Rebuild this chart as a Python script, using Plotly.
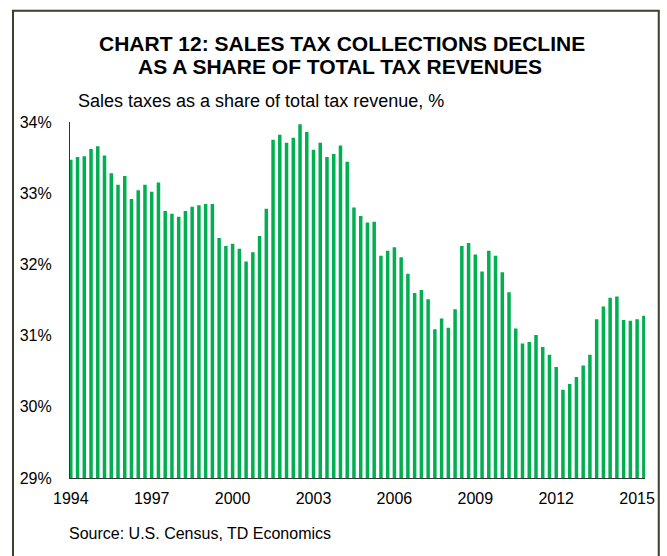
import plotly.graph_objects as go

# Quarterly sales-tax share of total tax revenue, 1994Q1 - 2015Q2 (%)
quarters = [f"{y}Q{q}" for y in range(1994, 2016) for q in range(1, 5)][:86]
share = [
    33.47, 33.51, 33.52, 33.62, 33.66, 33.53, 33.28, 33.12, 33.24, 32.92,
    33.04, 33.12, 33.02, 33.15, 32.75, 32.71, 32.67, 32.75, 32.81, 32.83,
    32.85, 32.85, 32.37, 32.26, 32.29, 32.22, 32.04, 32.17, 32.40, 32.78,
    33.75, 33.82, 33.71, 33.78, 33.97, 33.86, 33.61, 33.71, 33.51, 33.55,
    33.67, 33.44, 32.80, 32.68, 32.59, 32.60, 32.12, 32.19, 32.24, 32.10,
    31.87, 31.60, 31.64, 31.51, 31.09, 31.24, 31.11, 31.37, 32.26, 32.30,
    32.14, 31.90, 32.19, 32.12, 31.89, 31.61, 31.10, 30.89, 30.91, 31.01,
    30.84, 30.73, 30.56, 30.24, 30.32, 30.42, 30.58, 30.73, 31.23, 31.41,
    31.53, 31.55, 31.22, 31.21, 31.23, 31.28,
]
year_ticks = [str(y) for y in range(1994, 2016, 3)]
tick_quarters = [f"{y}Q1" for y in year_ticks]
y_ticks = [29, 30, 31, 32, 33, 34]
y_ticklabels = [f"{v}%" for v in y_ticks]

title_lines = ["CHART 12: SALES TAX COLLECTIONS DECLINE", "AS A SHARE OF TOTAL TAX REVENUES"]
subtitle = "Sales taxes as a share of total tax revenue, %"
source = "Source: U.S. Census, TD Economics"

FONT = "Arial, 'Liberation Sans', sans-serif"
W, H = 667, 556
L, R, T, B = 70, 12, 121.5, 78
pw, ph = W - L - R, H - T - B


def px_x(x):
    return (x - L) / pw


def px_y(y):
    return (H - B - y) / ph


fig = go.Figure(
    go.Bar(
        x=quarters,
        y=share,
        marker=dict(color="#00B050", line=dict(width=0)),
        width=0.52,
    )
)

annotations = []
for line, cx, cy in zip(title_lines, [347, 345], [43, 66]):
    annotations.append(
        dict(
            text=f"<b>{line}</b>",
            xref="paper",
            yref="paper",
            x=px_x(cx),
            y=px_y(cy),
            xanchor="center",
            yanchor="middle",
            showarrow=False,
            font=dict(size=21, family=FONT, color="black"),
        )
    )
annotations += [
    dict(
        text=subtitle,
        xref="paper",
        yref="paper",
        x=px_x(76),
        y=px_y(100),
        xanchor="left",
        yanchor="middle",
        showarrow=False,
        font=dict(size=18, family=FONT, color="black"),
    ),
    dict(
        text=source,
        xref="paper",
        yref="paper",
        x=px_x(67),
        y=px_y(534),
        xanchor="left",
        yanchor="middle",
        showarrow=False,
        font=dict(size=16, family=FONT, color="black"),
    ),
]

fig.update_layout(
    width=W,
    height=H,
    margin=dict(l=L, r=R, t=T, b=B),
    paper_bgcolor="white",
    plot_bgcolor="white",
    showlegend=False,
    font=dict(family=FONT, color="black", size=16),
    xaxis=dict(
        type="category",
        range=[-0.12, 85.17],
        tickvals=tick_quarters,
        ticktext=year_ticks,
        showgrid=False,
        showline=True,
        linecolor="#333333",
        linewidth=1.2,
        ticks="",
        ticklabelstandoff=6,
        tickfont=dict(size=16),
    ),
    yaxis=dict(
        range=[29, 34],
        tickvals=y_ticks,
        ticktext=y_ticklabels,
        showgrid=False,
        zeroline=False,
        showline=True,
        linecolor="#333333",
        linewidth=1.2,
        ticks="",
        ticklabelstandoff=14,
        tickfont=dict(size=16),
    ),
    shapes=[
        dict(
            type="rect",
            xref="paper",
            yref="paper",
            x0=px_x(12),
            x1=px_x(669),
            y0=px_y(560),
            y1=px_y(10),
            line=dict(color="#3c3f2e", width=2),
            fillcolor="rgba(0,0,0,0)",
            layer="below",
        )
    ],
    annotations=annotations,
)

fig.write_html("out.html")
